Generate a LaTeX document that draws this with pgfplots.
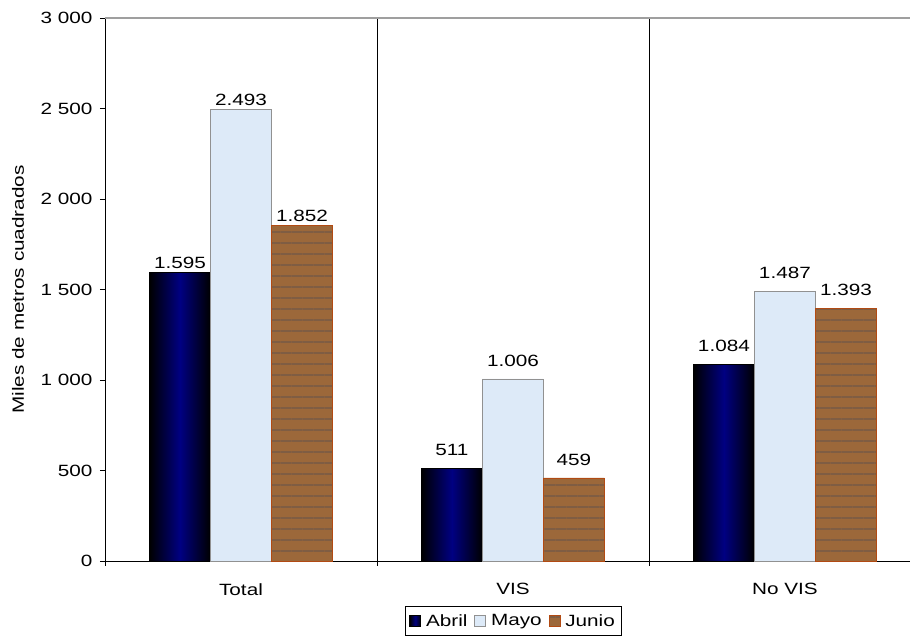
\documentclass[border=0pt]{standalone}
\usepackage{fontspec}
\setmainfont{Liberation Sans}[FakeStretch=1.27]
\usepackage{pgfplots}
\pgfplotsset{compat=1.18}
\usetikzlibrary{patterns.meta}
\definecolor{abril}{RGB}{0,0,130}
\definecolor{mayo}{RGB}{221,234,248}
\definecolor{mayoedge}{RGB}{145,145,145}
\definecolor{junio}{RGB}{156,104,58}
\definecolor{juniodark}{RGB}{95,52,20}
\definecolor{junioedge}{RGB}{178,74,18}
\begin{document}
\begin{tikzpicture}[font=\fontsize{16.3}{19}\selectfont]
\useasboundingbox (-105pt,-78pt) rectangle (806pt,561pt);
\begin{axis}[
  at={(0,0)}, anchor=south west,
  scale only axis, width=805pt, height=543pt,
  ybar=0pt, bar width=61pt,
  xmin=-0.5, xmax=2.46, ymin=0, ymax=3000,
  axis x line*=bottom, axis y line*=left,
  axis line style={black, line width=0.8pt, -},
  tick align=outside,
  xtick={0,1,2}, xticklabels={Total,VIS,No VIS},
  major x tick style={draw=none},
  minor xtick={-0.5,0.5,1.5},
  minor tick length=5pt, major tick length=5pt,
  minor x tick style={black, line width=0.6pt},
  xminorgrids, minor x grid style={black, line width=0.6pt},
  ytick={0,500,1000,1500,2000,2500,3000},
  yticklabels={0,500,1~000,1~500,2~000,2~500,3~000},
  y tick style={black, line width=0.6pt},
  xticklabel style={yshift=-14pt},
  yticklabel style={xshift=-4pt},
  ylabel={Miles de metros cuadrados},
  ylabel style={at={(axis description cs:-0.108,0.5)}, anchor=center},
  legend style={at={(0.507,-0.083)}, anchor=north, legend columns=3,
    draw=black, line width=0.6pt, font=\fontsize{16.3}{19}\selectfont,
    /tikz/every odd column/.append style={column sep=3pt},
    /tikz/every even column/.append style={column sep=5pt},
    inner xsep=4pt, inner ysep=6pt},
  legend image code/.code={\draw[#1, line width=0.6pt] (0pt,-5.5pt) rectangle (11pt,5.5pt);},
  visualization depends on={x \as \xv},
  nodes near coords={\pgfmathprintnumber[1000 sep={.},assume math mode=true]{\pgfplotspointmeta}},
  every node near coord/.append style={text=black, font=\fontsize{16.3}{19}\selectfont,
    anchor=south, yshift={\xv<0.5 ? 0.5pt : 9pt}},
  clip=false,
]
\addplot[bar shift=-61pt, draw=black, line width=0.6pt, left color=black, right color=black, middle color=abril]
  coordinates {(0,1595)};
\addplot[forget plot, bar shift=-61pt, draw=black, line width=0.6pt, left color=black, right color=black, middle color=abril]
  coordinates {(1,511)};
\addplot[forget plot, bar shift=-61pt, draw=black, line width=0.6pt, left color=black, right color=black, middle color=abril]
  coordinates {(2,1084)};
\addplot[bar shift=0pt, draw=mayoedge, line width=0.8pt, fill=mayo]
  coordinates {(0,2493) (1,1006) (2,1487)};
\addplot[bar shift=61pt, draw=junioedge, line width=0.8pt, fill=junio,
  postaction={pattern={Lines[angle=0,distance=11pt,line width=2.5pt]}, pattern color=juniodark!80}]
  coordinates {(0,1852) (1,459) (2,1393)};
\legend{Abril,Mayo,Junio}
\draw[gray!75, line width=1.2pt] (rel axis cs:0,1) -- (rel axis cs:1,1);
\end{axis}
\end{tikzpicture}
\end{document}
